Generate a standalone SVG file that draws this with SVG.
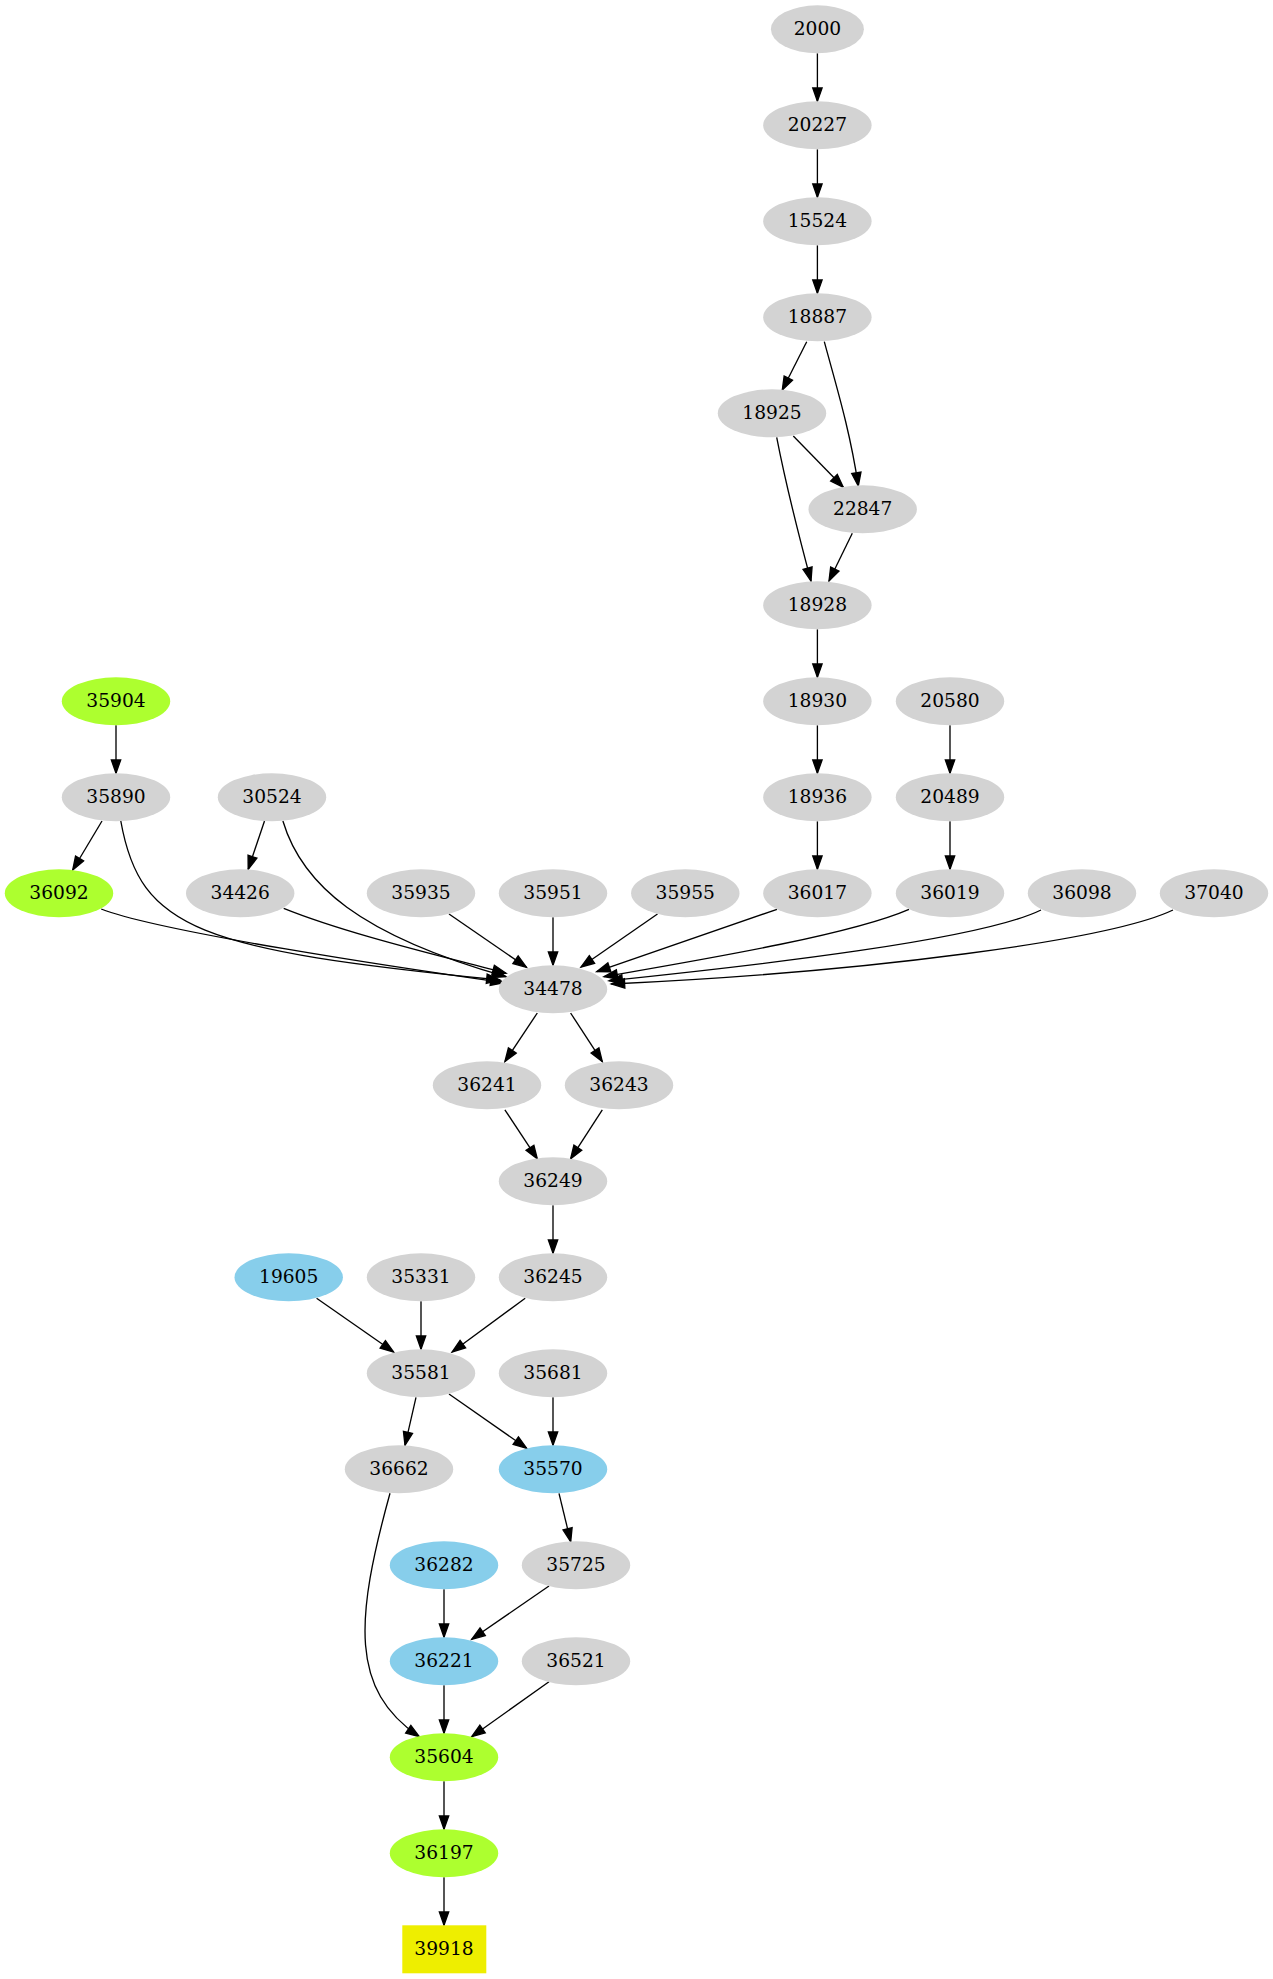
<svg xmlns="http://www.w3.org/2000/svg" width="1273" height="1979" viewBox="0 0 1273 1979">
<defs>
<style>
.n text{font-family:"DejaVu Serif","Liberation Serif",serif;font-size:18.67px;text-anchor:middle;fill:#000}
.g ellipse{fill:#d3d3d3}
.gr ellipse{fill:#adff2f}
.b ellipse{fill:#87ceeb}
.y rect{fill:#eeee00}
#edges path{fill:none;stroke:#000;stroke-width:1.33;marker-end:url(#a)}
</style>
<marker id="a" markerUnits="userSpaceOnUse" markerWidth="16" markerHeight="12" refX="13.33" refY="4.67" orient="auto" overflow="visible">
<path d="M0,0 L13.33,4.67 L0,9.33 Z" fill="#000" stroke="#000" stroke-width="1.33" stroke-linejoin="miter"/>
</marker>
</defs>
<rect width="1273" height="1979" fill="#fff"/>
<g id="edges">
<path d="M817.4,53.3 L817.4,101.3"/>
<path d="M817.4,149.3 L817.4,197.3"/>
<path d="M817.4,245.3 L817.4,293.3"/>
<path d="M806.7,341.7 L782.3,390"/>
<path d="M824.3,341.7 C836,385 850,430 858.3,486"/>
<path d="M793.3,436 L843.3,487.3"/>
<path d="M776.7,437.3 C785,480 800,540 811,581"/>
<path d="M852.3,533.3 L829,581"/>
<path d="M817.4,629.3 L817.4,677.3"/>
<path d="M817.4,725.3 L817.4,773.3"/>
<path d="M950,725.3 L950,773.3"/>
<path d="M116,725.3 L116,773.3"/>
<path d="M102,821 L72.7,870"/>
<path d="M264.5,821 L248.2,869.3"/>
<path d="M817.4,821.3 L817.4,869.3"/>
<path d="M950,821.3 L950,869.3"/>
<path d="M101.2,909 C160,932 400,968 504,982.7"/>
<path d="M120.8,821 C140,930 200,950 500,980"/>
<path d="M283.7,908.3 C350,935 450,958 506,973.3"/>
<path d="M282.9,821 C302,885 360,935 506,976.7"/>
<path d="M449,914 L526.5,967.3"/>
<path d="M553,917.3 L553,965.3"/>
<path d="M657.5,914 L581,967"/>
<path d="M777,909.3 L596.8,971.7"/>
<path d="M909,909.3 C850,935 700,960 604,976.7"/>
<path d="M1041,910 C980,940 760,965 609,980.7"/>
<path d="M1173,910 C1110,940 870,972 611.3,984"/>
<path d="M537.3,1013 L504.9,1061.6"/>
<path d="M570.6,1013 L602.3,1061.6"/>
<path d="M504.9,1109.8 L537.3,1158.9"/>
<path d="M602.3,1109.8 L570.6,1158.9"/>
<path d="M553,1205.3 L553,1253.3"/>
<path d="M316.6,1298.2 L393.7,1352"/>
<path d="M421,1301.3 L421,1349.3"/>
<path d="M525.2,1298.2 L452.1,1352"/>
<path d="M416,1397.3 L405,1445.3"/>
<path d="M449,1394 L526.7,1448.3"/>
<path d="M553,1397.3 L553,1445.3"/>
<path d="M559,1493.3 L570.7,1541.7"/>
<path d="M444,1589.3 L444,1637.3"/>
<path d="M549,1586 L471.7,1639.3"/>
<path d="M390,1493.3 C355,1620 350,1690 419.3,1736.7"/>
<path d="M444,1685.3 L444,1733.3"/>
<path d="M549,1681.7 L471.7,1736.7"/>
<path d="M444,1781.3 L444,1829.3"/>
<path d="M444,1877.3 L444,1925.3"/>
</g>
<g id="n2000" class="n g"><ellipse cx="817.4" cy="29.3" rx="46.5" ry="24"/><text x="817.4" y="35.3">2000</text></g>
<g id="n20227" class="n g"><ellipse cx="817.4" cy="125.3" rx="54.2" ry="24"/><text x="817.4" y="131.3">20227</text></g>
<g id="n15524" class="n g"><ellipse cx="817.4" cy="221.3" rx="54.2" ry="24"/><text x="817.4" y="227.3">15524</text></g>
<g id="n18887" class="n g"><ellipse cx="817.4" cy="317.3" rx="54.2" ry="24"/><text x="817.4" y="323.3">18887</text></g>
<g id="n18925" class="n g"><ellipse cx="772" cy="413.3" rx="54.2" ry="24"/><text x="772" y="419.3">18925</text></g>
<g id="n22847" class="n g"><ellipse cx="862.7" cy="509.3" rx="54.2" ry="24"/><text x="862.7" y="515.3">22847</text></g>
<g id="n18928" class="n g"><ellipse cx="817.4" cy="605.3" rx="54.2" ry="24"/><text x="817.4" y="611.3">18928</text></g>
<g id="n18930" class="n g"><ellipse cx="817.4" cy="701.3" rx="54.2" ry="24"/><text x="817.4" y="707.3">18930</text></g>
<g id="n20580" class="n g"><ellipse cx="950" cy="701.3" rx="54.2" ry="24"/><text x="950" y="707.3">20580</text></g>
<g id="n35904" class="n gr"><ellipse cx="116" cy="701.3" rx="54.2" ry="24"/><text x="116" y="707.3">35904</text></g>
<g id="n35890" class="n g"><ellipse cx="116" cy="797.3" rx="54.2" ry="24"/><text x="116" y="803.3">35890</text></g>
<g id="n30524" class="n g"><ellipse cx="272" cy="797.3" rx="54.2" ry="24"/><text x="272" y="803.3">30524</text></g>
<g id="n18936" class="n g"><ellipse cx="817.4" cy="797.3" rx="54.2" ry="24"/><text x="817.4" y="803.3">18936</text></g>
<g id="n20489" class="n g"><ellipse cx="950" cy="797.3" rx="54.2" ry="24"/><text x="950" y="803.3">20489</text></g>
<g id="n36092" class="n gr"><ellipse cx="59" cy="893.3" rx="54.2" ry="24"/><text x="59" y="899.3">36092</text></g>
<g id="n34426" class="n g"><ellipse cx="240.2" cy="893.3" rx="54.2" ry="24"/><text x="240.2" y="899.3">34426</text></g>
<g id="n35935" class="n g"><ellipse cx="421" cy="893.3" rx="54.2" ry="24"/><text x="421" y="899.3">35935</text></g>
<g id="n35951" class="n g"><ellipse cx="553" cy="893.3" rx="54.2" ry="24"/><text x="553" y="899.3">35951</text></g>
<g id="n35955" class="n g"><ellipse cx="685.3" cy="893.3" rx="54.2" ry="24"/><text x="685.3" y="899.3">35955</text></g>
<g id="n36017" class="n g"><ellipse cx="817.4" cy="893.3" rx="54.2" ry="24"/><text x="817.4" y="899.3">36017</text></g>
<g id="n36019" class="n g"><ellipse cx="950" cy="893.3" rx="54.2" ry="24"/><text x="950" y="899.3">36019</text></g>
<g id="n36098" class="n g"><ellipse cx="1082" cy="893.3" rx="54.2" ry="24"/><text x="1082" y="899.3">36098</text></g>
<g id="n37040" class="n g"><ellipse cx="1214" cy="893.3" rx="54.2" ry="24"/><text x="1214" y="899.3">37040</text></g>
<g id="n34478" class="n g"><ellipse cx="553" cy="989.3" rx="54.2" ry="24"/><text x="553" y="995.3">34478</text></g>
<g id="n36241" class="n g"><ellipse cx="487" cy="1085.3" rx="54.2" ry="24"/><text x="487" y="1091.3">36241</text></g>
<g id="n36243" class="n g"><ellipse cx="619" cy="1085.3" rx="54.2" ry="24"/><text x="619" y="1091.3">36243</text></g>
<g id="n36249" class="n g"><ellipse cx="553" cy="1181.3" rx="54.2" ry="24"/><text x="553" y="1187.3">36249</text></g>
<g id="n19605" class="n b"><ellipse cx="288.7" cy="1277.3" rx="54.2" ry="24"/><text x="288.7" y="1283.3">19605</text></g>
<g id="n35331" class="n g"><ellipse cx="421" cy="1277.3" rx="54.2" ry="24"/><text x="421" y="1283.3">35331</text></g>
<g id="n36245" class="n g"><ellipse cx="553" cy="1277.3" rx="54.2" ry="24"/><text x="553" y="1283.3">36245</text></g>
<g id="n35581" class="n g"><ellipse cx="421" cy="1373.3" rx="54.2" ry="24"/><text x="421" y="1379.3">35581</text></g>
<g id="n35681" class="n g"><ellipse cx="553" cy="1373.3" rx="54.2" ry="24"/><text x="553" y="1379.3">35681</text></g>
<g id="n36662" class="n g"><ellipse cx="399" cy="1469.3" rx="54.2" ry="24"/><text x="399" y="1475.3">36662</text></g>
<g id="n35570" class="n b"><ellipse cx="553" cy="1469.3" rx="54.2" ry="24"/><text x="553" y="1475.3">35570</text></g>
<g id="n36282" class="n b"><ellipse cx="444" cy="1565.3" rx="54.2" ry="24"/><text x="444" y="1571.3">36282</text></g>
<g id="n35725" class="n g"><ellipse cx="576" cy="1565.3" rx="54.2" ry="24"/><text x="576" y="1571.3">35725</text></g>
<g id="n36221" class="n b"><ellipse cx="444" cy="1661.3" rx="54.2" ry="24"/><text x="444" y="1667.3">36221</text></g>
<g id="n36521" class="n g"><ellipse cx="576" cy="1661.3" rx="54.2" ry="24"/><text x="576" y="1667.3">36521</text></g>
<g id="n35604" class="n gr"><ellipse cx="444" cy="1757.3" rx="54.2" ry="24"/><text x="444" y="1763.3">35604</text></g>
<g id="n36197" class="n gr"><ellipse cx="444" cy="1853.3" rx="54.2" ry="24"/><text x="444" y="1859.3">36197</text></g>
<g id="n39918" class="n y"><rect x="402.3" y="1925.3" width="84" height="48"/><text x="444" y="1955.3">39918</text></g>
</svg>
